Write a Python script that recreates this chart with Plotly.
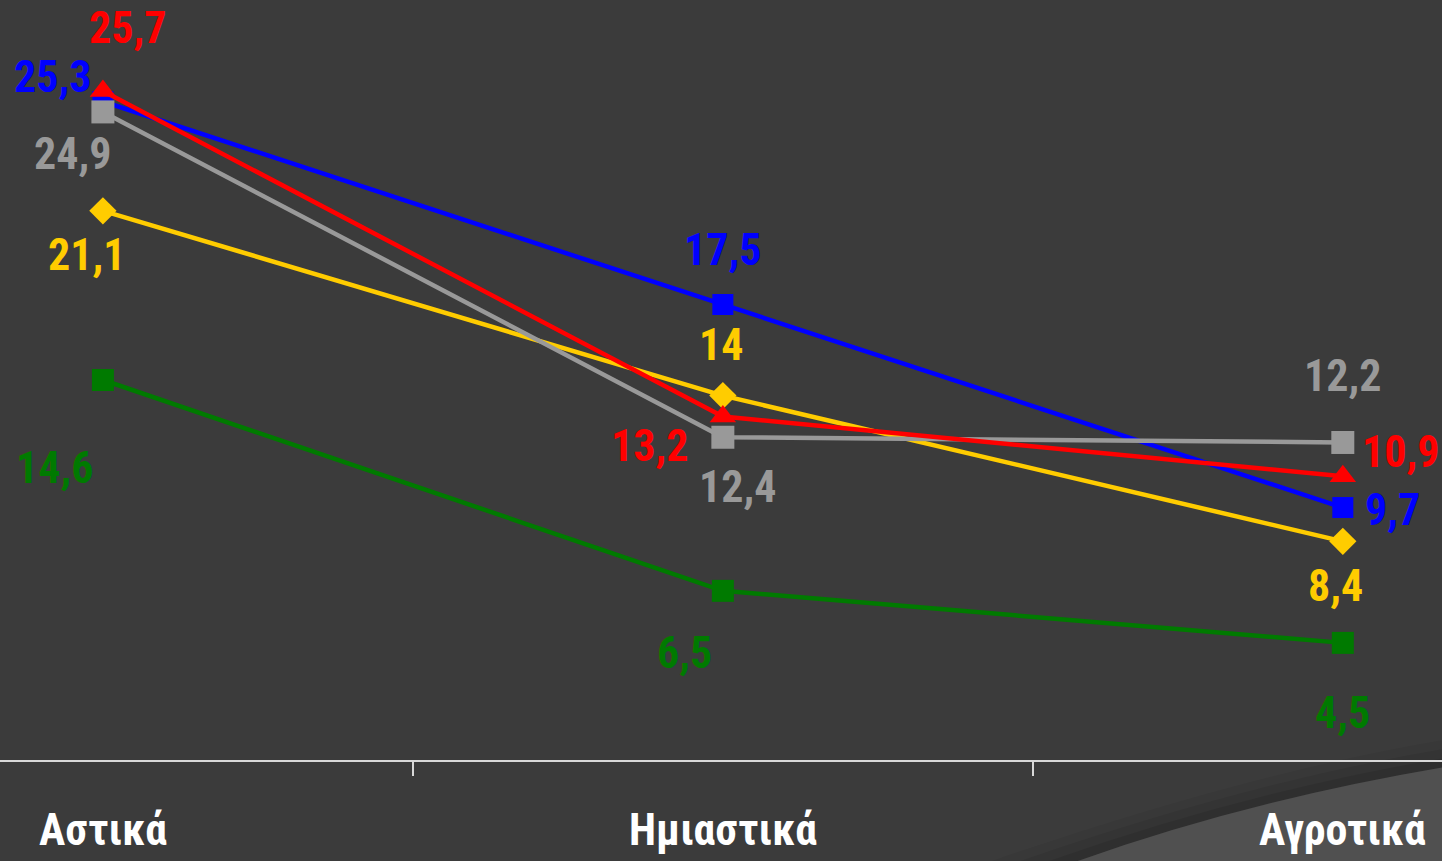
import plotly.graph_objects as go

categories = ["Αστικά", "Ημιαστικά", "Αγροτικά"]

blue_values = [25.3, 17.5, 9.7]
red_values = [25.7, 13.2, 10.9]
gray_values = [24.9, 12.4, 12.2]
yellow_values = [21.1, 14.0, 8.4]
green_values = [14.6, 6.5, 4.5]

BG = "#3b3b3b"
FONT = "Roboto Condensed, Liberation Sans Narrow, Arial Narrow, sans-serif"

# (values, colour, marker symbol, marker size, label pixel offsets per point)
series = [
    (green_values, "#007a00", "square", 22, [(-48, -88), (-38, -62), (0, -70)]),
    (yellow_values, "#ffcc00", "diamond", 21, [(-16, -44), (-2, 51), (-7, -45)]),
    (blue_values, "#0000ff", "square", 21, [(-50, 25), (0, 55), (50, -2)]),
    (gray_values, "#999999", "square", 23, [(-30, -42), (15, -50), (0, 66)]),
    (red_values, "#ff0000", "triangle-up", 23, [(25, 63), (-73, -30), (58, 24)]),
]

x_idx = list(range(len(categories)))

fig = go.Figure()
for values, color, symbol, msize, offsets in series:
    fig.add_trace(go.Scatter(
        x=x_idx, y=values, mode="lines+markers",
        line=dict(color=color, width=4.5),
        marker=dict(symbol=symbol, size=msize, color=color, line=dict(width=0)),
        showlegend=False, hoverinfo="skip",
    ))
    for xi, v, (dx, dy) in zip(x_idx, values, offsets):
        fig.add_annotation(
            x=xi, y=v, text=f"{v:g}".replace(".", ","), showarrow=False,
            xshift=dx, yshift=dy,
            font=dict(family=FONT, size=44, color=color, weight="bold"),
        )

for xi, cat in zip(x_idx, categories):
    fig.add_annotation(
        x=xi, y=0, text=cat, showarrow=False, yshift=-70,
        font=dict(family=FONT, size=44, color="white", weight="bold"),
    )

# decorative lighter wedge in the bottom-right corner, with a soft shadow above it
for k, alpha in [(3, 0.05), (2, 0.07), (1, 0.09)]:
    dy = 0.012 * k
    fig.add_shape(
        type="path", xref="paper", yref="paper", layer="below",
        path=f"M {0.737 - 0.02 * k},-0.14 Q 0.86,{-0.055 + dy} 1.0,{-0.01 + dy} L 1.0,-0.14 Z",
        fillcolor=f"rgba(0,0,0,{alpha})", line=dict(width=0),
    )
fig.add_shape(
    type="path", xref="paper", yref="paper", layer="below",
    path="M 0.737,-0.14 Q 0.86,-0.055 1.0,-0.01 L 1.0,-0.14 Z",
    fillcolor="#505050", line=dict(width=0),
)

fig.update_xaxes(
    range=[-0.166, 2.16], showgrid=False, zeroline=False,
    showline=True, linecolor="#d9d9d9", linewidth=2,
    tickmode="array", tickvals=[0.5, 1.5], ticks="outside", ticklen=14,
    tickwidth=2, tickcolor="#d9d9d9", showticklabels=False,
)
fig.update_yaxes(range=[0, 29.2], visible=False, showgrid=False, zeroline=False)
fig.update_layout(
    width=1442, height=861,
    margin=dict(l=0, r=0, t=0, b=101),
    paper_bgcolor=BG, plot_bgcolor=BG,
)
fig.write_html("out.html", config={"displayModeBar": False},
               post_script="document.body.style.margin='0';")
